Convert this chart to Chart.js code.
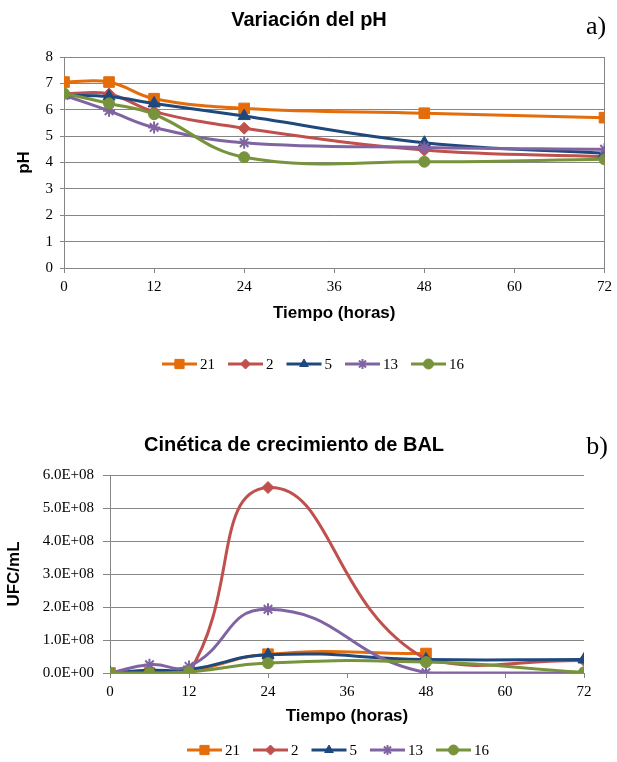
<!DOCTYPE html>
<html>
<head>
<meta charset="utf-8">
<script src="https://cdn.jsdelivr.net/npm/chart.js@4/dist/chart.umd.min.js"></script>
<style>
  body { margin: 0; background: #fff; }
  #wrapA { position: absolute; left: 0; top: 0; }
  #wrapB { position: absolute; left: 0; top: 400px; }
</style>
</head>
<body>
<div id="wrapA"><canvas id="chart-ph" width="617" height="400"></canvas></div>
<div id="wrapB"><canvas id="chart-ufc" width="617" height="362"></canvas></div>
<script>
// Datos
const horas = [0, 6, 12, 24, 48, 72];
const cepas = ['21', '2', '5', '13', '16'];

// a) pH
const ph21 = [7.05, 7.05, 6.42, 6.05, 5.87, 5.70];
const ph2 = [6.60, 6.60, 5.93, 5.30, 4.47, 4.22];
const ph5 = [6.55, 6.50, 6.24, 5.76, 4.75, 4.35];
const ph13 = [6.55, 5.96, 5.33, 4.75, 4.57, 4.50];
const ph16 = [6.62, 6.24, 5.83, 4.20, 4.03, 4.12];

// b) UFC/mL
const ufc21 = [0, 0, 0.04e8, 0.57e8, 0.59e8, null];
const ufc2 = [0, 0, 0.02e8, 5.62e8, 0.42e8, 0.38e8];
const ufc5 = [0, 0.08e8, 0.1e8, 0.55e8, 0.41e8, 0.41e8];
const ufc13 = [0, 0.25e8, 0.2e8, 1.93e8, 0.01e8, 0];
const ufc16 = [0, 0, 0.03e8, 0.3e8, 0.33e8, 0.02e8];

const xTicks = [0, 12, 24, 36, 48, 60, 72];

const colores = ['#E46C0A', '#C0504D', '#1F497D', '#8064A2', '#77933C'];
const marcadores = ['rect', 'rectRot', 'triangle', 'star', 'circle'];
const radios = [7.5, 6, 7, 6, 5.5];
const gris = '#868686';
const serif = '"Liberation Serif", "Times New Roman", serif';
const sans = '"Liberation Sans", Arial, sans-serif';

function series(valores) {
  return valores.map(function(v, i) { return { x: horas[i], y: v }; });
}

function datasets(lista, tension) {
  return lista.map(function(valores, i) {
    return {
      label: cepas[i],
      data: series(valores),
      borderColor: colores[i],
      backgroundColor: colores[i],
      borderWidth: 3,
      tension: tension,
      pointStyle: marcadores[i],
      pointRadius: radios[i],
      pointBackgroundColor: colores[i],
      pointBorderColor: colores[i],
      pointBorderWidth: marcadores[i] === 'star' ? 2 : 1,
      spanGaps: false,
      order: lista.length - i
    };
  });
}

// leyenda con linea + marcador, como en Excel
const leyendaLinea = {
  id: 'leyendaLinea',
  afterDraw(chart, args, opts) {
    const ctx = chart.ctx;
    ctx.save();
    ctx.font = '15px ' + serif;
    const items = chart.data.datasets.map(function(ds) {
      return { ds: ds, w: 35 + 3 + ctx.measureText(ds.label).width };
    });
    const total = items.reduce(function(s, it) { return s + it.w; }, 0) + 13 * (items.length - 1);
    let x = opts.centerX - total / 2;
    items.forEach(function(it) {
      const ds = it.ds;
      ctx.strokeStyle = ds.borderColor;
      ctx.lineWidth = 3;
      ctx.beginPath();
      ctx.moveTo(x, opts.y);
      ctx.lineTo(x + 35, opts.y);
      ctx.stroke();
      ctx.fillStyle = ds.pointBackgroundColor;
      ctx.strokeStyle = ds.pointBorderColor;
      ctx.lineWidth = ds.pointBorderWidth;
      Chart.helpers.drawPoint(ctx, {
        pointStyle: ds.pointStyle,
        radius: ds.pointStyle === 'rect' ? 6.5 : 5,
        rotation: 0,
        borderWidth: ds.pointBorderWidth
      }, x + 17.5, opts.y);
      ctx.fillStyle = '#000';
      ctx.textBaseline = 'middle';
      ctx.textAlign = 'left';
      ctx.fillText(ds.label, x + 38, opts.y + 1);
      x += it.w + 13;
    });
    // etiqueta a) / b)
    ctx.font = '26px ' + serif;
    ctx.textAlign = 'center';
    ctx.fillText(opts.panel, opts.panelX, opts.panelY);
    ctx.restore();
  }
};

function opciones(cfg) {
  return {
    responsive: false,
    animation: false,
    layout: { padding: cfg.padding },
    plugins: {
      legend: { display: false },
      tooltip: { enabled: false },
      title: {
        display: true,
        text: cfg.titulo,
        color: '#000',
        font: { family: sans, size: 20, weight: 'bold' },
        padding: cfg.tituloPad
      },
      leyendaLinea: cfg.leyenda
    },
    scales: {
      x: {
        type: 'linear',
        min: 0,
        max: 72,
        afterBuildTicks: function(scale) {
          scale.ticks = xTicks.map(function(v) { return { value: v }; });
        },
        afterFit: function(scale) { scale.height = 57; },
        ticks: {
          color: '#000',
          padding: 5,
          maxRotation: 0,
          font: { family: serif, size: 15 }
        },
        grid: cfg.xGrid,
        border: { color: gris, width: 1 },
        title: {
          display: true,
          text: 'Tiempo (horas)',
          color: '#000',
          font: { family: sans, size: 17, weight: 'bold' },
          padding: { top: 0, bottom: cfg.xTitlePad }
        }
      },
      y: {
        min: 0,
        max: cfg.yMax,
        afterFit: function(scale) { scale.width = cfg.yWidth; },
        ticks: {
          stepSize: cfg.yStep,
          color: '#000',
          padding: cfg.yTickPad,
          font: { family: serif, size: 15 },
          callback: cfg.yFormato
        },
        grid: { color: gris, tickColor: gris, tickLength: cfg.yTickLen, lineWidth: 1 },
        border: { color: gris, width: 1 },
        title: {
          display: true,
          text: cfg.yTitulo,
          color: '#000',
          font: { family: sans, size: 17, weight: 'bold' },
          padding: { top: cfg.yTitlePad, bottom: 0 }
        }
      }
    }
  };
}

new Chart(document.getElementById('chart-ph'), {
  type: 'line',
  data: { datasets: datasets([ph21, ph2, ph5, ph13, ph16], 0.4) },
  options: opciones({
    titulo: 'Variación del pH',
    tituloPad: { top: 8, bottom: 25 },
    padding: { left: 13, right: 12, top: 0, bottom: 75 },
    xGrid: {
      drawOnChartArea: true,
      color: function(c) { return c.tick && c.tick.value === 72 ? gris : 'rgba(0,0,0,0)'; },
      tickColor: gris,
      tickLength: 5
    },
    xTitlePad: 1,
    yMax: 8,
    yStep: 1,
    yWidth: 51,
    yTickPad: 7,
    yTickLen: 4,
    yTitlePad: 1,
    yTitulo: 'pH',
    yFormato: function(v) { return v; },
    leyenda: { centerX: 313, y: 364, panel: 'a)', panelX: 596, panelY: 27 }
  }),
  plugins: [leyendaLinea]
});

new Chart(document.getElementById('chart-ufc'), {
  type: 'line',
  data: { datasets: datasets([ufc21, ufc2, ufc5, ufc13, ufc16], 0.5) },
  options: opciones({
    titulo: 'Cinética de crecimiento de BAL',
    tituloPad: { top: 33, bottom: 18 },
    padding: { left: 4, right: 33, top: 0, bottom: 32 },
    xGrid: {
      drawOnChartArea: false,
      drawTicks: true,
      tickColor: gris,
      tickLength: 5
    },
    xTitlePad: 3,
    yMax: 6e8,
    yStep: 1e8,
    yWidth: 106,
    yTickPad: 9,
    yTickLen: 7,
    yTitlePad: 0,
    yTitulo: 'UFC/mL',
    yFormato: function(v) { return (v / 1e8).toFixed(1) + (v === 0 ? 'E+00' : 'E+08'); },
    leyenda: { centerX: 338, y: 350, panel: 'b)', panelX: 597, panelY: 47 }
  }),
  plugins: [leyendaLinea]
});
</script>
</body>
</html>
